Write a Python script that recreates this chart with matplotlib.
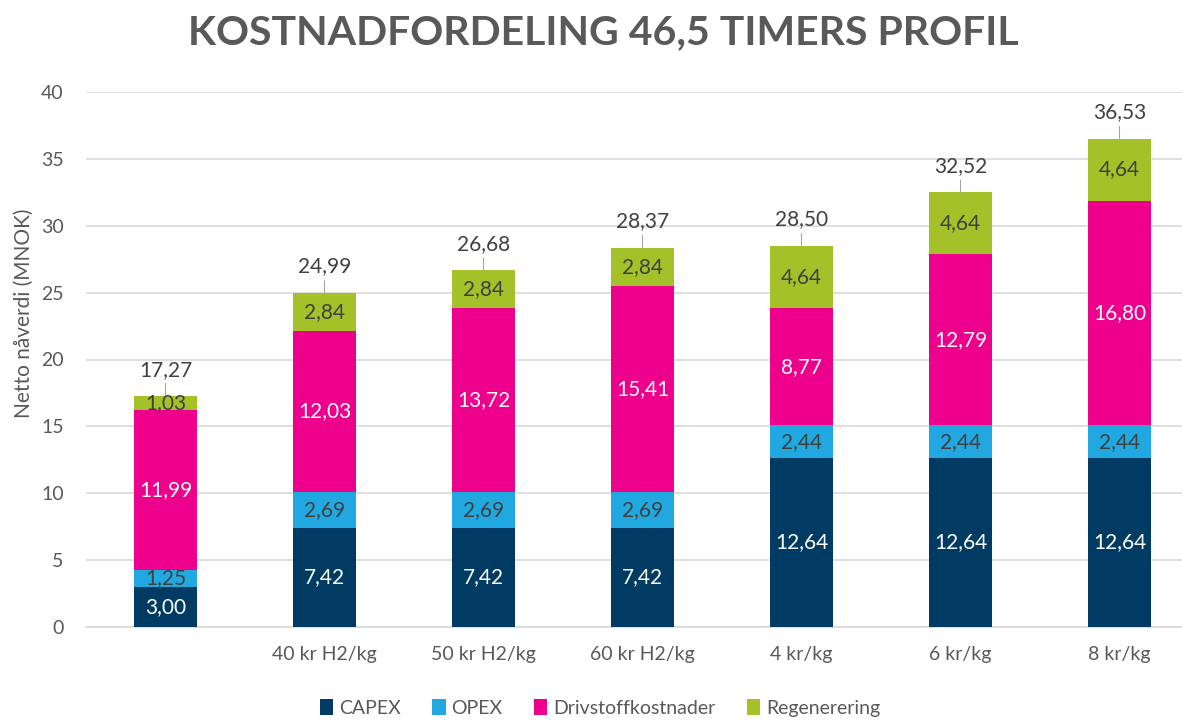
import matplotlib
matplotlib.use("Agg")
from matplotlib import pyplot as plt
import numpy as np

plt.rcParams['font.family'] = ['Lato', 'DejaVu Sans']

# data
categories = ["", "40 kr H2/kg", "50 kr H2/kg", "60 kr H2/kg", "4 kr/kg", "6 kr/kg", "8 kr/kg"]
capex = [3.00, 7.42, 7.42, 7.42, 12.64, 12.64, 12.64]
opex = [1.25, 2.69, 2.69, 2.69, 2.44, 2.44, 2.44]
drivstoff = [11.99, 12.03, 13.72, 15.41, 8.77, 12.79, 16.80]
regen = [1.03, 2.84, 2.84, 2.84, 4.64, 4.64, 4.64]
totals = [17.27, 24.99, 26.68, 28.37, 28.50, 32.52, 36.53]

series = [
    ("CAPEX", capex, "#003B64", "white"),
    ("OPEX", opex, "#21A8E0", "#404040"),
    ("Drivstoffkostnader", drivstoff, "#EC008C", "white"),
    ("Regenerering", regen, "#A4C12A", "#404040"),
]

fig = plt.figure(figsize=(11.82, 7.2), dpi=100)
ax = fig.add_axes([86 / 1182, 1 - 627 / 720, (1182 - 86) / 1182, 535 / 720])

x = np.arange(len(categories))
bottom = np.zeros(len(categories))
handles = []
for name, vals, col, tcol in series:
    vals = np.array(vals)
    bars = ax.bar(x, vals, 0.4, bottom=bottom, color=col, label=name, zorder=3)
    handles.append(bars)
    for xi, b, v in zip(x, bottom, vals):
        ax.text(xi, b + v / 2, f"{v:.2f}".replace(".", ","), ha='center', va='center',
                color=tcol, fontsize=15, zorder=4)
    bottom += vals

for xi, t, top in zip(x, totals, bottom):
    ax.annotate(f"{t:.2f}".replace(".", ","), xy=(xi, top), xytext=(0, 19),
                textcoords='offset points', ha='center', va='center',
                fontsize=15, color='#404040',
                arrowprops=dict(arrowstyle='-', color='#A6A6A6', lw=0.8,
                                shrinkA=1, shrinkB=0))

ax.set_xlim(-0.5, -0.5 + (1182 - 86) / 159)
ax.set_ylim(0, 40)
ax.set_yticks(range(0, 41, 5))
ax.set_xticks(x)
ax.set_xticklabels(categories)
ax.tick_params(length=0, labelsize=14, labelcolor='#595959')
ax.tick_params(axis='y', pad=16)
ax.tick_params(axis='x', pad=14)
ax.grid(axis='y', color='#D9D9D9', lw=1.2, zorder=0)
for s in ['top', 'right', 'left']:
    ax.spines[s].set_visible(False)
ax.spines['bottom'].set_color('#D9D9D9')
ax.spines['bottom'].set_linewidth(1.2)

fig.text(24 / 1182, 1 - 313 / 720, "Netto nåverdi (MNOK)", rotation=90,
         ha='center', va='center', fontsize=15, color='#595959')
fig.text(603 / 1182, 1 - 33 / 720, "KOSTNADFORDELING 46,5 TIMERS PROFIL",
         ha='center', va='center', fontsize=29.5, fontweight='bold', color='#595959')

fig.legend(handles=handles, loc='center', bbox_to_anchor=(600 / 1182, 1 - 708 / 720),
           ncol=4, frameon=False, fontsize=14, handlelength=0.7, handleheight=0.9,
           handletextpad=0.3, columnspacing=1.6, labelcolor='#595959')

fig.savefig("out.png", dpi=100)
